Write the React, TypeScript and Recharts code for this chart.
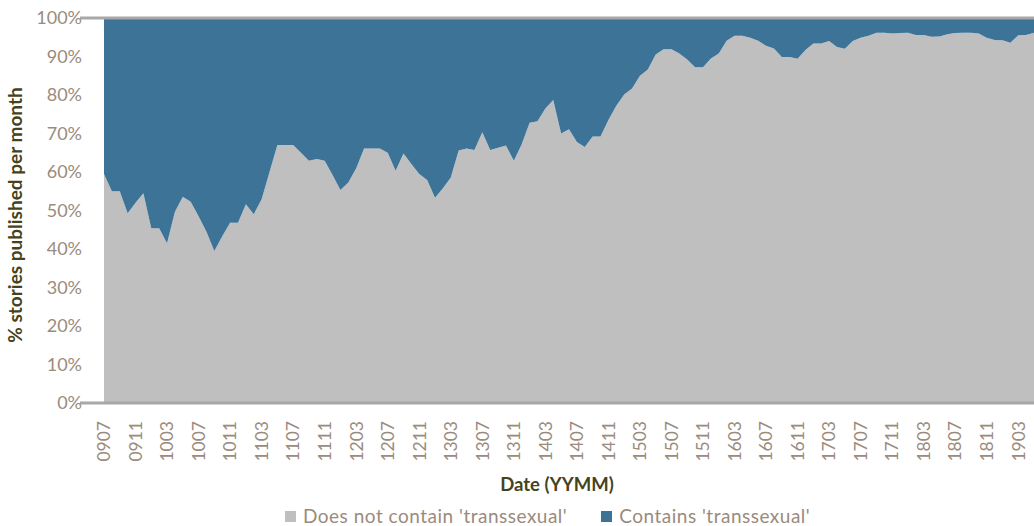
import { AreaChart, Area, XAxis, YAxis, ReferenceLine, Legend, Label } from 'recharts';

// months, YYMM
const MONTHS = [
  '0907', '0908', '0909', '0910', '0911', '0912',
  '1001', '1002', '1003', '1004', '1005', '1006', '1007', '1008', '1009', '1010', '1011', '1012',
  '1101', '1102', '1103', '1104', '1105', '1106', '1107', '1108', '1109', '1110', '1111', '1112',
  '1201', '1202', '1203', '1204', '1205', '1206', '1207', '1208', '1209', '1210', '1211', '1212',
  '1301', '1302', '1303', '1304', '1305', '1306', '1307', '1308', '1309', '1310', '1311', '1312',
  '1401', '1402', '1403', '1404', '1405', '1406', '1407', '1408', '1409', '1410', '1411', '1412',
  '1501', '1502', '1503', '1504', '1505', '1506', '1507', '1508', '1509', '1510', '1511', '1512',
  '1601', '1602', '1603', '1604', '1605', '1606', '1607', '1608', '1609', '1610', '1611', '1612',
  '1701', '1702', '1703', '1704', '1705', '1706', '1707', '1708', '1709', '1710', '1711', '1712',
  '1801', '1802', '1803', '1804', '1805', '1806', '1807', '1808', '1809', '1810', '1811', '1812',
  '1901', '1902', '1903', '1904', '1905',
];

// % of stories per month without the term
const NOT_CONTAIN = [
  59.5, 55, 55, 49.3, 52, 54.5,
  45.4, 45.4, 41.5, 49.7, 53.6, 52.3, 48.5, 44.5, 39.5, 43.3, 46.8, 46.8,
  51.6, 49, 52.9, 60, 67, 67, 67, 65, 62.9, 63.4, 62.9, 59.2,
  55.3, 57.3, 61, 66.1, 66.1, 66.1, 65, 60.3, 64.8, 62.1, 59.5, 57.9,
  53.3, 55.8, 58.6, 65.6, 66.1, 65.7, 70.3, 65.7, 66.3, 66.9, 62.9, 67.2,
  72.8, 73.2, 76.5, 78.7, 70, 71.1, 67.8, 66.5, 69.2, 69.2, 73.5, 77.2,
  80.1, 81.7, 85, 86.6, 90.5, 91.9, 91.9, 90.8, 89.2, 87.2, 87.2, 89.5,
  90.8, 94.1, 95.4, 95.4, 94.9, 94.1, 92.8, 92.1, 89.9, 89.9, 89.4, 91.7,
  93.4, 93.4, 94, 92.5, 92, 94, 94.9, 95.4, 96.2, 96.2, 96, 96.1,
  96.2, 95.6, 95.6, 95.1, 95.2, 95.8, 96.1, 96.2, 96.2, 96, 94.9, 94.3,
  94.2, 93.6, 95.5, 95.6, 96.2,
];

const Y_TICKS = [0, 10, 20, 30, 40, 50, 60, 70, 80, 90, 100];

const GREY = '#BFBFBF';
const BLUE = '#3D7397';
const TICK_COLOR = '#9A8B7D';
const TITLE_COLOR = '#46431A';
const LINE_COLOR = '#A8A8A8';
const FONT = 'Lato, "Open Sans", sans-serif';

const data = MONTHS.map((m, i) => ({
  month: m,
  notContain: NOT_CONTAIN[i],
  contains: +(100 - NOT_CONTAIN[i]).toFixed(1),
}));

function XTick({ x, y, payload }: any) {
  return (
    <g transform={`translate(${x},${y + 18})`}>
      <text transform="rotate(-90)" textAnchor="end" dy="0.36em" fill={TICK_COLOR} fontSize={17.5} fontFamily={FONT}>
        {payload.value}
      </text>
    </g>
  );
}

function LegendBox() {
  const item = (color: string, text: string) => (
    <div style={{ display: 'flex', alignItems: 'center' }}>
      <span style={{ display: 'inline-block', width: 11, height: 11, background: color, marginRight: 7 }} />
      <span>{text}</span>
    </div>
  );
  return (
    <div style={{
      display: 'flex', justifyContent: 'flex-start', gap: 34, fontFamily: FONT, fontSize: 19,
      letterSpacing: 0.5, color: TICK_COLOR, lineHeight: '22px', paddingLeft: 285,
    }}>
      {item(GREY, "Does not contain 'transsexual'")}
      {item(BLUE, "Contains 'transsexual'")}
    </div>
  );
}

export default function App() {
  return (
    <div style={{ width: 1034, height: 526, background: '#fff' }}>
      <style>{'body{margin:0}'}</style>
      <AreaChart width={1034} height={526} data={data} margin={{ top: 18, right: 0, left: 0, bottom: 0 }}>
        <XAxis
          dataKey="month"
          interval={3}
          height={123}
          padding={{ left: 24, right: 0 }}
          tick={<XTick />}
          tickLine={false}
          tickSize={0}
          tickMargin={0}
          axisLine={{ stroke: LINE_COLOR, strokeWidth: 3 }}
        >
          <Label
            value="Date (YYMM)"
            position="insideBottom"
            offset={35}
            style={{ fontFamily: FONT, fontSize: 18.5, fontWeight: 700, fill: TITLE_COLOR }}
          />
        </XAxis>
        <YAxis
          width={80}
          domain={[0, 100]}
          ticks={Y_TICKS}
          tickFormatter={(v) => `${v}%`}
          tickLine={false}
          axisLine={false}
          tickSize={0}
          tickMargin={-2}
          tick={{ fill: TICK_COLOR, fontSize: 18, fontFamily: FONT }}
        >
          <Label
            content={() => (
              <text
                x={0}
                y={0}
                transform="translate(22,215) rotate(-90)"
                textAnchor="middle"
                fill={TITLE_COLOR}
                fontSize={19}
                fontWeight={700}
                fontFamily={FONT}
              >
                % stories published per month
              </text>
            )}
          />
        </YAxis>
        <Area
          type="linear"
          dataKey="notContain"
          stackId="a"
          fill={GREY}
          fillOpacity={1}
          stroke="none"
          isAnimationActive={false}
        />
        <Area
          type="linear"
          dataKey="contains"
          stackId="a"
          fill={BLUE}
          fillOpacity={1}
          stroke="none"
          isAnimationActive={false}
        />
        <ReferenceLine y={100} stroke={LINE_COLOR} strokeWidth={3} />
        <Legend
          layout="horizontal"
          verticalAlign="middle"
          align="center"
          wrapperStyle={{ top: 505, left: 0, width: 1034 }}
          content={<LegendBox />}
        />
      </AreaChart>
    </div>
  );
}
